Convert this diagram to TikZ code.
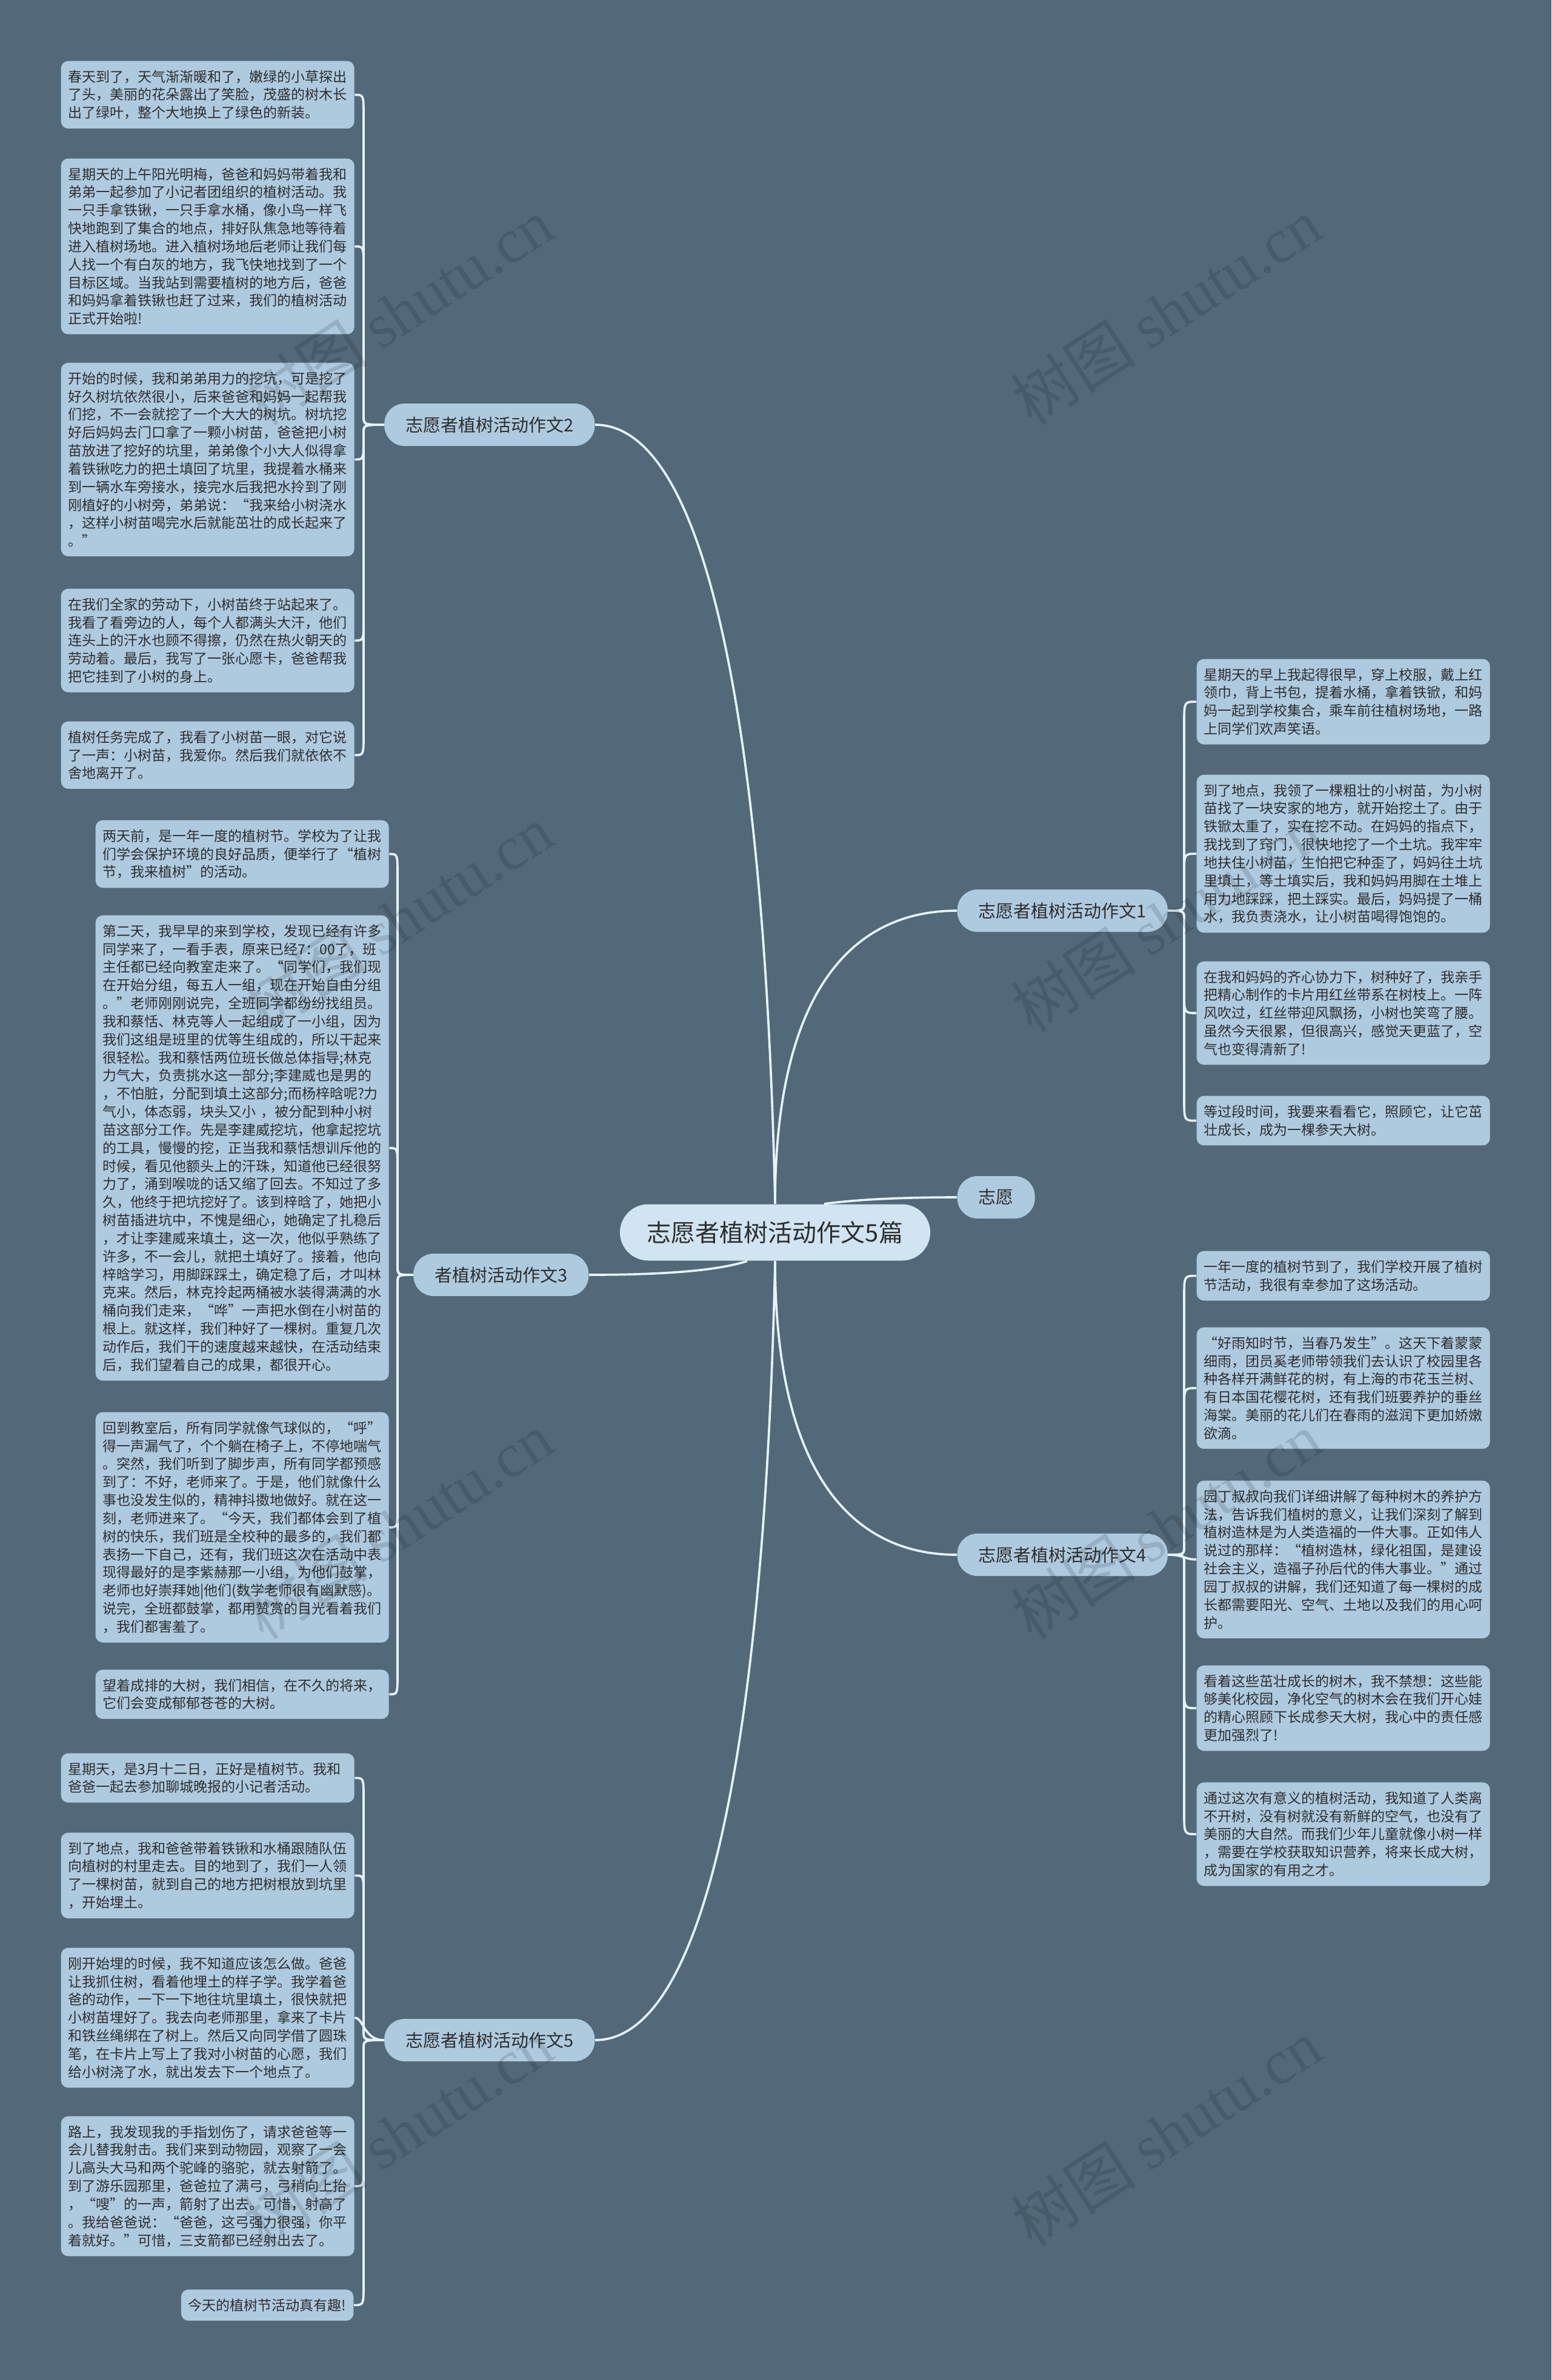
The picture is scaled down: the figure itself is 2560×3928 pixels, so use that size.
\documentclass[tikz,border=0pt]{standalone}
\usepackage{fontspec}
\setmainfont{Noto Sans CJK SC}
\newfontfamily\wmlatin{Liberation Serif}
\usetikzlibrary{calc}
\definecolor{bgc}{HTML}{53697A}
\definecolor{leafc}{HTML}{AECADF}
\definecolor{rootc}{HTML}{D0E4F1}
\definecolor{linec}{HTML}{E6F3FA}
\definecolor{txtc}{HTML}{2E2E2E}
\tikzset{
  leafbase/.style={fill=leafc, rounded corners=3.6pt, inner xsep=3.6pt, inner ysep=4.5pt,
    align=left, font=\fontsize{6.9pt}{8.95pt}\selectfont, text=txtc},
  leaf/.style={leafbase, text width=138pt, anchor=north west},
  branch/.style={fill=leafc, rounded corners=10pt, inner xsep=10.5pt, inner ysep=2pt,
    minimum height=21pt, font=\fontsize{8.7pt}{10pt}\selectfont, text=txtc},
  rootbox/.style={fill=rootc, rounded corners=14pt, inner xsep=13.5pt, inner ysep=2pt,
    minimum height=27.9pt, font=\fontsize{12pt}{14pt}\selectfont, text=txtc},
  conn/.style={draw=linec, line width=1.1pt},
  wm/.style={text=black, text opacity=0.13, font=\fontsize{31pt}{34pt}\selectfont, rotate=33}
}
\newcommand\hookconn[4]{\draw[conn] (#1) .. controls (#1 -| #3) .. ($(#1 -| #3)+(0,#4*15)$) -- ($(#2 -| #3)+(0,-#4*35)$) .. controls (#2 -| #3) .. (#2);}
\newcommand\flatconn[3]{\draw[conn] (#1) .. controls (#1 -| #3) and (#2 -| #3) .. (#2);}
\begin{document}
\begin{tikzpicture}[x=0.3pt,y=-0.3pt]
\fill[bgc] (0,0) rectangle (2560,3928);
\useasboundingbox (0,0) rectangle (2560,3928);

% main nodes
\node[rootbox] (root) at (1279,2034) {志愿者植树活动作文5篇};
\node[branch, anchor=west] (b1) at (1579,1503) {志愿者植树活动作文1};
\node[branch, anchor=west] (zy) at (1579,1976) {志愿};
\node[branch, anchor=west] (b4) at (1579,2566) {志愿者植树活动作文4};
\node[branch, anchor=east] (b2) at (982,701) {志愿者植树活动作文2};
\node[branch, anchor=east] (b3) at (972,2104) {者植树活动作文3};
\node[branch, anchor=east] (b5) at (982,3367) {志愿者植树活动作文5};

\coordinate (t2) at (600,0);
\coordinate (t3) at (656,0);
\coordinate (t5) at (600,0);
\coordinate (t1) at (1954,0);
\coordinate (t4) at (1954,0);

% branch 2 leaves
\node[leaf] (L2a) at (100,100) {春天到了，天气渐渐暖和了，嫩绿的小草探出\\了头，美丽的花朵露出了笑脸，茂盛的树木长\\出了绿叶，整个大地换上了绿色的新装。};
\node[leaf] (L2b) at (100,261) {星期天的上午阳光明梅，爸爸和妈妈带着我和\\弟弟一起参加了小记者团组织的植树活动。我\\一只手拿铁锹，一只手拿水桶，像小鸟一样飞\\快地跑到了集合的地点，排好队焦急地等待着\\进入植树场地。进入植树场地后老师让我们每\\人找一个有白灰的地方，我飞快地找到了一个\\目标区域。当我站到需要植树的地方后，爸爸\\和妈妈拿着铁锹也赶了过来，我们的植树活动\\正式开始啦!};
\node[leaf] (L2c) at (100,598) {开始的时候，我和弟弟用力的挖坑，可是挖了\\好久树坑依然很小，后来爸爸和妈妈一起帮我\\们挖，不一会就挖了一个大大的树坑。树坑挖\\好后妈妈去门口拿了一颗小树苗，爸爸把小树\\苗放进了挖好的坑里，弟弟像个小大人似得拿\\着铁锹吃力的把土填回了坑里，我提着水桶来\\到一辆水车旁接水，接完水后我把水拎到了刚\\刚植好的小树旁，弟弟说：“我来给小树浇水\\，这样小树苗喝完水后就能茁壮的成长起来了\\。”};
\node[leaf] (L2d) at (100,971) {在我们全家的劳动下，小树苗终于站起来了。\\我看了看旁边的人，每个人都满头大汗，他们\\连头上的汗水也顾不得擦，仍然在热火朝天的\\劳动着。最后，我写了一张心愿卡，爸爸帮我\\把它挂到了小树的身上。};
\node[leaf] (L2e) at (100,1190) {植树任务完成了，我看了小树苗一眼，对它说\\了一声：小树苗，我爱你。然后我们就依依不\\舍地离开了。};

% branch 3 leaves
\node[leaf] (L3a) at (157,1353) {两天前，是一年一度的植树节。学校为了让我\\们学会保护环境的良好品质，便举行了“植树\\节，我来植树”的活动。};
\node[leaf] (L3b) at (157,1510) {第二天，我早早的来到学校，发现已经有许多\\同学来了，一看手表，原来已经7：00了，班\\主任都已经向教室走来了。“同学们，我们现\\在开始分组，每五人一组，现在开始自由分组\\。”老师刚刚说完，全班同学都纷纷找组员。\\我和蔡恬、林克等人一起组成了一小组，因为\\我们这组是班里的优等生组成的，所以干起来\\很轻松。我和蔡恬两位班长做总体指导;林克\\力气大，负责挑水这一部分;李建威也是男的\\，不怕脏，分配到填土这部分;而杨梓晗呢?力\\气小，体态弱，块头又小~，被分配到种小树\\苗这部分工作。先是李建威挖坑，他拿起挖坑\\的工具，慢慢的挖，正当我和蔡恬想训斥他的\\时候，看见他额头上的汗珠，知道他已经很努\\力了，涌到喉咙的话又缩了回去。不知过了多\\久，他终于把坑挖好了。该到梓晗了，她把小\\树苗插进坑中，不愧是细心，她确定了扎稳后\\，才让李建威来填土，这一次，他似乎熟练了\\许多，不一会儿，就把土填好了。接着，他向\\梓晗学习，用脚踩踩土，确定稳了后，才叫林\\克来。然后，林克拎起两桶被水装得满满的水\\桶向我们走来，“哗”一声把水倒在小树苗的\\根上。就这样，我们种好了一棵树。重复几次\\动作后，我们干的速度越来越快，在活动结束\\后，我们望着自己的成果，都很开心。};
\node[leaf] (L3c) at (157,2330) {回到教室后，所有同学就像气球似的，“呼”\\得一声漏气了，个个躺在椅子上，不停地喘气\\。突然，我们听到了脚步声，所有同学都预感\\到了：不好，老师来了。于是，他们就像什么\\事也没发生似的，精神抖擞地做好。就在这一\\刻，老师进来了。“今天，我们都体会到了植\\树的快乐，我们班是全校种的最多的，我们都\\表扬一下自己，还有，我们班这次在活动中表\\现得最好的是李紫赫那一小组，为他们鼓掌，\\老师也好崇拜她|他们(数学老师很有幽默感)。\\说完，全班都鼓掌，都用赞赏的目光看着我们\\，我们都害羞了。};
\node[leaf] (L3d) at (157,2755) {望着成排的大树，我们相信，在不久的将来，\\它们会变成郁郁苍苍的大树。};

% branch 5 leaves
\node[leaf] (L5a) at (100,2893) {星期天，是3月十二日，正好是植树节。我和\\爸爸一起去参加聊城晚报的小记者活动。};
\node[leaf] (L5b) at (100,3024) {到了地点，我和爸爸带着铁锹和水桶跟随队伍\\向植树的村里走去。目的地到了，我们一人领\\了一棵树苗，就到自己的地方把树根放到坑里\\，开始埋土。};
\node[leaf] (L5c) at (100,3214) {刚开始埋的时候，我不知道应该怎么做。爸爸\\让我抓住树，看着他埋土的样子学。我学着爸\\爸的动作，一下一下地往坑里填土，很快就把\\小树苗埋好了。我去向老师那里，拿来了卡片\\和铁丝绳绑在了树上。然后又向同学借了圆珠\\笔，在卡片上写上了我对小树苗的心愿，我们\\给小树浇了水，就出发去下一个地点了。};
\node[leaf] (L5d) at (100,3492) {路上，我发现我的手指划伤了，请求爸爸等一\\会儿替我射击。我们来到动物园，观察了一会\\儿高头大马和两个驼峰的骆驼，就去射箭了。\\到了游乐园那里，爸爸拉了满弓，弓稍向上抬\\，“嗖”的一声，箭射了出去。可惜，射高了\\。我给爸爸说：“爸爸，这弓强力很强，你平\\着就好。”可惜，三支箭都已经射出去了。};
\node[leafbase, anchor=north east] (L5e) at (584,3778) {今天的植树节活动真有趣!};

% branch 1 leaves
\node[leaf] (L1a) at (1974,1087) {星期天的早上我起得很早，穿上校服，戴上红\\领巾，背上书包，提着水桶，拿着铁锨，和妈\\妈一起到学校集合，乘车前往植树场地，一路\\上同学们欢声笑语。};
\node[leaf] (L1b) at (1974,1278) {到了地点，我领了一棵粗壮的小树苗，为小树\\苗找了一块安家的地方，就开始挖土了。由于\\铁锨太重了，实在挖不动。在妈妈的指点下，\\我找到了窍门，很快地挖了一个土坑。我牢牢\\地扶住小树苗，生怕把它种歪了，妈妈往土坑\\里填土，等土填实后，我和妈妈用脚在土堆上\\用力地踩踩，把土踩实。最后，妈妈提了一桶\\水，我负责浇水，让小树苗喝得饱饱的。};
\node[leaf] (L1c) at (1974,1586) {在我和妈妈的齐心协力下，树种好了，我亲手\\把精心制作的卡片用红丝带系在树枝上。一阵\\风吹过，红丝带迎风飘扬，小树也笑弯了腰。\\虽然今天很累，但很高兴，感觉天更蓝了，空\\气也变得清新了!};
\node[leaf] (L1d) at (1974,1808) {等过段时间，我要来看看它，照顾它，让它茁\\壮成长，成为一棵参天大树。};

% branch 4 leaves
\node[leaf] (L4a) at (1974,2064) {一年一度的植树节到了，我们学校开展了植树\\节活动，我很有幸参加了这场活动。};
\node[leaf] (L4b) at (1974,2190) {“好雨知时节，当春乃发生”。这天下着蒙蒙\\细雨，团员奚老师带领我们去认识了校园里各\\种各样开满鲜花的树，有上海的市花玉兰树、\\有日本国花樱花树，还有我们班要养护的垂丝\\海棠。美丽的花儿们在春雨的滋润下更加娇嫩\\欲滴。};
\node[leaf] (L4c) at (1974,2443) {园丁叔叔向我们详细讲解了每种树木的养护方\\法，告诉我们植树的意义，让我们深刻了解到\\植树造林是为人类造福的一件大事。正如伟人\\说过的那样：“植树造林，绿化祖国，是建设\\社会主义，造福子孙后代的伟大事业。”通过\\园丁叔叔的讲解，我们还知道了每一棵树的成\\长都需要阳光、空气、土地以及我们的用心呵\\护。};
\node[leaf] (L4d) at (1974,2748) {看着这些茁壮成长的树木，我不禁想：这些能\\够美化校园，净化空气的树木会在我们开心娃\\的精心照顾下长成参天大树，我心中的责任感\\更加强烈了!};
\node[leaf] (L4e) at (1974,2941) {通过这次有意义的植树活动，我知道了人类离\\不开树，没有树就没有新鲜的空气，也没有了\\美丽的大自然。而我们少年儿童就像小树一样\\，需要在学校获取知识营养，将来长成大树，\\成为国家的有用之才。};

% root connectors
\draw[conn] (root.north) .. controls ($(root.north)+(0,-340)$) and ($(b1.west)+(-180,0)$) .. (b1.west);
\draw[conn] ($(root.north)+(81,0)$) .. controls ($(root.north)+(141,-8)$) and ($(zy.west)+(-80,0)$) .. (zy.west);
\draw[conn] (root.south) .. controls ($(root.south)+(0,340)$) and ($(b4.west)+(-180,0)$) .. (b4.west);
\draw[conn] (root.north) .. controls ($(root.north)+(-15,-700)$) and ($(b2.east)+(200,0)$) .. (b2.east);
\draw[conn] ($(root.south)+(-46,0)$) .. controls ($(root.south)+(-106,20)$) and ($(b3.east)+(80,0)$) .. (b3.east);
\draw[conn] (root.south) .. controls ($(root.south)+(-15,700)$) and ($(b5.east)+(200,0)$) .. (b5.east);

% branch 2 connectors
\hookconn{b2.west}{L2a.east}{t2}{-1}
\hookconn{b2.west}{L2b.east}{t2}{-1}
\hookconn{b2.west}{L2c.east}{t2}{1}
\hookconn{b2.west}{L2d.east}{t2}{1}
\hookconn{b2.west}{L2e.east}{t2}{1}
% branch 3 connectors
\hookconn{b3.west}{L3a.east}{t3}{-1}
\hookconn{b3.west}{L3b.east}{t3}{-1}
\hookconn{b3.west}{L3c.east}{t3}{1}
\hookconn{b3.west}{L3d.east}{t3}{1}
% branch 5 connectors
\hookconn{b5.west}{L5a.east}{t5}{-1}
\hookconn{b5.west}{L5b.east}{t5}{-1}
\flatconn{b5.west}{L5c.east}{t5}
\hookconn{b5.west}{L5d.east}{t5}{1}
\hookconn{b5.west}{L5e.east}{t5}{1}
% branch 1 connectors
\hookconn{b1.east}{L1a.west}{t1}{-1}
\hookconn{b1.east}{L1b.west}{t1}{-1}
\hookconn{b1.east}{L1c.west}{t1}{1}
\hookconn{b1.east}{L1d.west}{t1}{1}
% branch 4 connectors
\hookconn{b4.east}{L4a.west}{t4}{-1}
\hookconn{b4.east}{L4b.west}{t4}{-1}
\flatconn{b4.east}{L4c.west}{t4}
\hookconn{b4.east}{L4d.west}{t4}{1}
\hookconn{b4.east}{L4e.west}{t4}{1}

% watermarks
\foreach \wx in {656,1924}{
  \foreach \wy in {514,1516,2518,3520}{
    \node[wm] at (\wx,\wy) {树图 {\wmlatin shutu.cn}};
  }
}
\end{tikzpicture}
\end{document}
